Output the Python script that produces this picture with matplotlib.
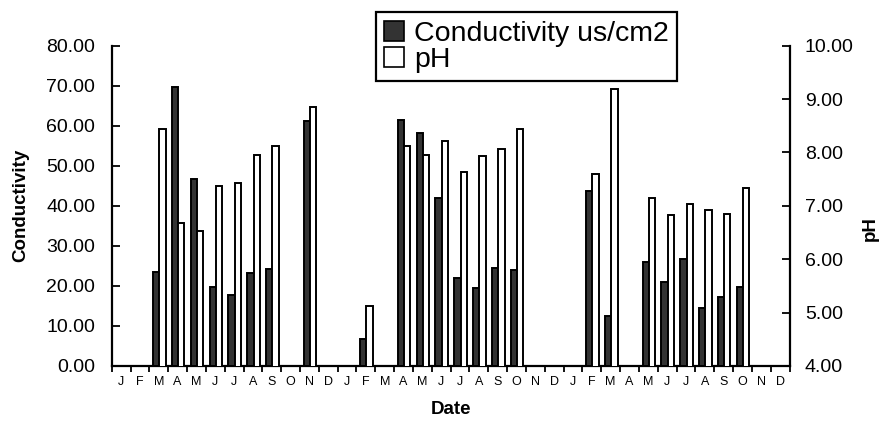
import numpy as np
import matplotlib
matplotlib.use("Agg")
import matplotlib.pyplot as plt
from matplotlib.patches import Patch
from matplotlib.ticker import FixedLocator, FormatStrFormatter, NullFormatter

plt.rcParams['font.family'] = ['Liberation Sans', 'DejaVu Sans']

nan = np.nan
month_labels = ["J", "F", "M", "A", "M", "J", "J", "A", "S", "O", "N", "D"] * 3
conductivity = [nan, nan, 23.6, 69.7, 46.7, 19.7, 17.8, 23.2, 24.2, nan, 61.3, nan,
                nan, 6.7, nan, 61.5, 58.2, 41.9, 21.9, 19.4, 24.5, 24.0, nan, nan,
                nan, 43.8, 12.5, nan, 25.9, 20.9, 26.7, 14.4, 17.3, 19.8, nan, nan]
ph = [nan, nan, 8.44, 6.67, 6.53, 7.38, 7.42, 7.96, 8.12, nan, 8.86, nan,
      nan, 5.12, nan, 8.13, 7.96, 8.21, 7.64, 7.94, 8.07, 8.44, nan, nan,
      nan, 7.60, 9.19, nan, 7.14, 6.83, 7.03, 6.93, 6.85, 7.33, nan, nan]
cond_ticks = [0, 10, 20, 30, 40, 50, 60, 70, 80]
ph_ticks = [4, 5, 6, 7, 8, 9, 10]

fig = plt.figure(figsize=(8.91, 4.28), dpi=100)
ax1 = fig.add_axes([0.1254, 0.1449, 0.8861 - 0.1254, 0.8932 - 0.1449])
ax2 = ax1.twinx()

x = np.arange(len(month_labels))
c = np.array(conductivity, dtype=float)
p = np.array(ph, dtype=float)
mc = ~np.isnan(c)
mp = ~np.isnan(p)
w = 0.335
ax1.bar(x[mc] - 0.305, c[mc], width=w, align='edge', color='#333333',
        edgecolor='black', linewidth=1.4, zorder=3)
ax2.bar(x[mp] + 0.03, p[mp], width=w, align='edge', color='white',
        edgecolor='black', linewidth=1.4, zorder=3)

ax1.set_xlim(-0.5, len(month_labels) - 0.5)
ax1.set_ylim(0, 80)
ax2.set_ylim(4, 10)

ax1.yaxis.set_major_locator(FixedLocator(cond_ticks))
ax1.yaxis.set_major_formatter(FormatStrFormatter('%.2f'))
ax2.yaxis.set_major_locator(FixedLocator(ph_ticks))
ax2.yaxis.set_major_formatter(FormatStrFormatter('%.2f'))

# category boundaries as major ticks, labels at centers as minor ticks
ax1.xaxis.set_major_locator(FixedLocator(np.arange(-0.5, len(month_labels) + 0.5, 1)))
ax1.xaxis.set_major_formatter(NullFormatter())
ax1.xaxis.set_minor_locator(FixedLocator(x))
ax1.set_xticklabels(month_labels, minor=True)
ax1.tick_params(axis='x', which='major', direction='out', length=4, width=1.3)
ax1.tick_params(axis='x', which='minor', length=0, pad=7, labelsize=9)

ax1.tick_params(axis='y', direction='in', length=6, width=1.3, pad=12, labelsize=14)
ax2.tick_params(axis='y', direction='in', length=6, width=1.3, pad=11, labelsize=14)

for ax in (ax1, ax2):
    ax.spines['top'].set_visible(False)
    for s in ('left', 'right', 'bottom'):
        ax.spines[s].set_linewidth(1.6)
ax2.spines['left'].set_visible(False)
ax2.spines['bottom'].set_visible(False)
ax1.spines['right'].set_visible(False)

ax1.set_ylabel('Conductivity', fontsize=13.5, fontweight='bold')
ax1.yaxis.label.set_verticalalignment('center')
ax1.yaxis.set_label_coords(-0.134, 0.5)
ax2.set_ylabel('pH', fontsize=13.5, fontweight='bold')
ax2.yaxis.label.set_verticalalignment('center')
ax2.yaxis.set_label_coords(1.119, 0.43)
ax1.set_xlabel('Date', fontsize=13.5, fontweight='bold')
ax1.xaxis.label.set_verticalalignment('center')
ax1.xaxis.set_label_coords(0.5, (366 - 410) / 320.3)

handles = [Patch(facecolor='#333333', edgecolor='black', linewidth=1.2),
           Patch(facecolor='white', edgecolor='black', linewidth=1.2)]
leg = fig.legend(handles, ['Conductivity us/cm2', 'pH'], loc='upper left',
                 bbox_to_anchor=(375.7 / 891, 1 - 12.3 / 428), borderaxespad=0,
                 fontsize=20.5, handlelength=0.7, handleheight=0.7,
                 handletextpad=0.35, borderpad=0.3, labelspacing=0.0,
                 fancybox=False, framealpha=1, edgecolor='black')
leg.get_frame().set_linewidth(1.6)

fig.savefig('out.png', dpi=100)
